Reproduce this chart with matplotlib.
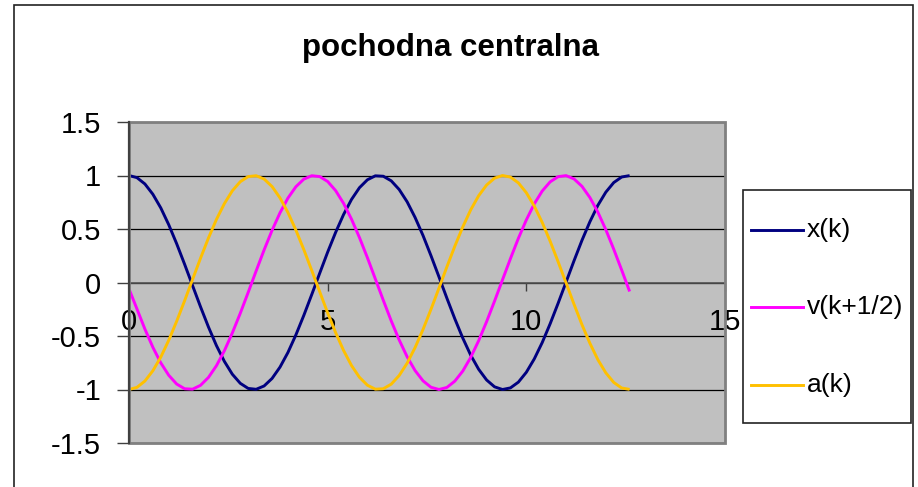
import matplotlib
matplotlib.use("Agg")
import matplotlib.pyplot as plt
from matplotlib.lines import Line2D
from matplotlib.patches import Rectangle

plt.rcParams["font.family"] = ["Liberation Sans", "DejaVu Sans"]
plt.rcParams["axes.unicode_minus"] = False

title = "pochodna centralna"
series_names = ["x(k)", "v(k+1/2)", "a(k)"]
series_colors = ["#000080", "#FF00FF", "#FFC000"]

# sample times k*h
k = [0.0, 0.2, 0.4, 0.6, 0.8, 1.0, 1.2, 1.4, 1.6, 1.8,
     2.0, 2.2, 2.4, 2.6, 2.8, 3.0, 3.2, 3.4, 3.6, 3.8,
     4.0, 4.2, 4.4, 4.6, 4.8, 5.0, 5.2, 5.4, 5.6, 5.8,
     6.0, 6.2, 6.4, 6.6, 6.8, 7.0, 7.2, 7.4, 7.6, 7.8,
     8.0, 8.2, 8.4, 8.6, 8.8, 9.0, 9.2, 9.4, 9.6, 9.8,
     10.0, 10.2, 10.4, 10.6, 10.8, 11.0, 11.2, 11.4, 11.6, 11.8,
     12.0, 12.2, 12.4, 12.6]

x_k = [1.000, 0.980, 0.921, 0.825, 0.697, 0.540, 0.362, 0.170, -0.029, -0.227,
       -0.416, -0.589, -0.737, -0.857, -0.942, -0.990, -0.998, -0.967, -0.897, -0.791,
       -0.654, -0.490, -0.307, -0.112, 0.087, 0.284, 0.468, 0.635, 0.776, 0.886,
       0.960, 0.997, 0.993, 0.950, 0.869, 0.754, 0.608, 0.439, 0.251, 0.054,
       -0.146, -0.339, -0.519, -0.679, -0.811, -0.911, -0.975, -1.000, -0.985, -0.931,
       -0.839, -0.714, -0.561, -0.385, -0.194, 0.004, 0.203, 0.394, 0.568, 0.721,
       0.844, 0.934, 0.986, 0.999]

v_k = [-0.060, -0.247, -0.435, -0.605, -0.751, -0.867, -0.949, -0.993, -0.997, -0.961,
       -0.887, -0.778, -0.638, -0.472, -0.288, -0.092, 0.108, 0.304, 0.487, 0.651,
       0.789, 0.895, 0.966, 0.998, 0.990, 0.944, 0.859, 0.740, 0.592, 0.420,
       0.232, 0.033, -0.166, -0.359, -0.537, -0.694, -0.823, -0.919, -0.979, -1.000,
       -0.981, -0.922, -0.828, -0.700, -0.544, -0.366, -0.174, 0.025, 0.223, 0.413,
       0.585, 0.735, 0.855, 0.941, 0.989, 0.999, 0.968, 0.899, 0.794, 0.658,
       0.494, 0.311, 0.116, -0.084]

a_k = [-1.000, -0.980, -0.921, -0.825, -0.697, -0.540, -0.362, -0.170, 0.029, 0.227,
       0.416, 0.589, 0.737, 0.857, 0.942, 0.990, 0.998, 0.967, 0.897, 0.791,
       0.654, 0.490, 0.307, 0.112, -0.087, -0.284, -0.468, -0.635, -0.776, -0.886,
       -0.960, -0.997, -0.993, -0.950, -0.869, -0.754, -0.608, -0.439, -0.251, -0.054,
       0.146, 0.339, 0.519, 0.679, 0.811, 0.911, 0.975, 1.000, 0.985, 0.931,
       0.839, 0.714, 0.561, 0.385, 0.194, -0.004, -0.203, -0.394, -0.568, -0.721,
       -0.844, -0.934, -0.986, -0.999]

x_ticks = [0, 5, 10, 15]
y_ticks = [-1.5, -1.0, -0.5, 0.0, 0.5, 1.0, 1.5]
y_tick_labels = ["-1.5", "-1", "-0.5", "0", "0.5", "1", "1.5"]

W, H = 918, 487
fig = plt.figure(figsize=(W / 100, H / 100), dpi=100)
fig.patch.set_facecolor("white")

# outer chart frame
fig.add_artist(Rectangle((14 / W, -0.05), (913 - 14) / W, (H - 5) / H + 0.05,
                         transform=fig.transFigure, fill=False,
                         edgecolor="#222222", linewidth=1.2))

ax = fig.add_axes([129 / W, (H - 443) / H, (725 - 129) / W, (443 - 122) / H])
ax.set_facecolor("#C0C0C0")
ax.set_xlim(0, 15)
ax.set_ylim(-1.5, 1.5)

for yv in y_ticks:
    ax.axhline(yv, color="#000000", linewidth=0.9, zorder=1)

series = [x_k, v_k, a_k]
for vals, name, col in zip(series, series_names, series_colors):
    ax.plot(k, vals, color=col, linewidth=2.1, label=name, zorder=3,
            solid_capstyle="butt", solid_joinstyle="round")

ax.set_xticks(x_ticks)
ax.set_xticklabels([str(t) for t in x_ticks])
ax.set_yticks(y_ticks)
ax.set_yticklabels(y_tick_labels)

for s in ["top", "right", "left"]:
    ax.spines[s].set_visible(False)
ax.spines["bottom"].set_position(("data", 0))
ax.spines["bottom"].set_color("#555555")
ax.spines["bottom"].set_linewidth(1.2)
ax.spines["bottom"].set_zorder(2)

# plot-area border
ax.add_patch(Rectangle((0, 0), 1, 1, transform=ax.transAxes, fill=False,
                       edgecolor="#808080", linewidth=2.0, clip_on=False, zorder=4))
ax.add_artist(Line2D([0, 0], [0, 1], transform=ax.transAxes, color="#404040",
                     linewidth=1.6, clip_on=False, zorder=5))

ax.tick_params(axis="y", direction="out", length=9, width=1.0, color="#404040",
               pad=11, labelsize=21)
ax.tick_params(axis="x", direction="out", length=6, width=1.0, color="#404040",
               pad=12, labelsize=21)

fig.text(450 / W, 1 - 48 / H, title, ha="center", va="center",
         fontsize=22.5, fontweight="bold")

# legend box
lx0, lx1, ly0, ly1 = 743, 911, 190, 423
fig.add_artist(Rectangle((lx0 / W, 1 - ly1 / H), (lx1 - lx0) / W, (ly1 - ly0) / H,
                         transform=fig.transFigure, facecolor="white",
                         edgecolor="#222222", linewidth=1.2))
entry_y = [230, 307, 385]
for yy, name, col in zip(entry_y, series_names, series_colors):
    fig.add_artist(Line2D([751 / W, 803 / W], [1 - yy / H, 1 - yy / H],
                          transform=fig.transFigure, color=col, linewidth=2.1))
    fig.text(807 / W, 1 - yy / H, name, ha="left", va="center", fontsize=19)

fig.savefig("out.png", dpi=100)
